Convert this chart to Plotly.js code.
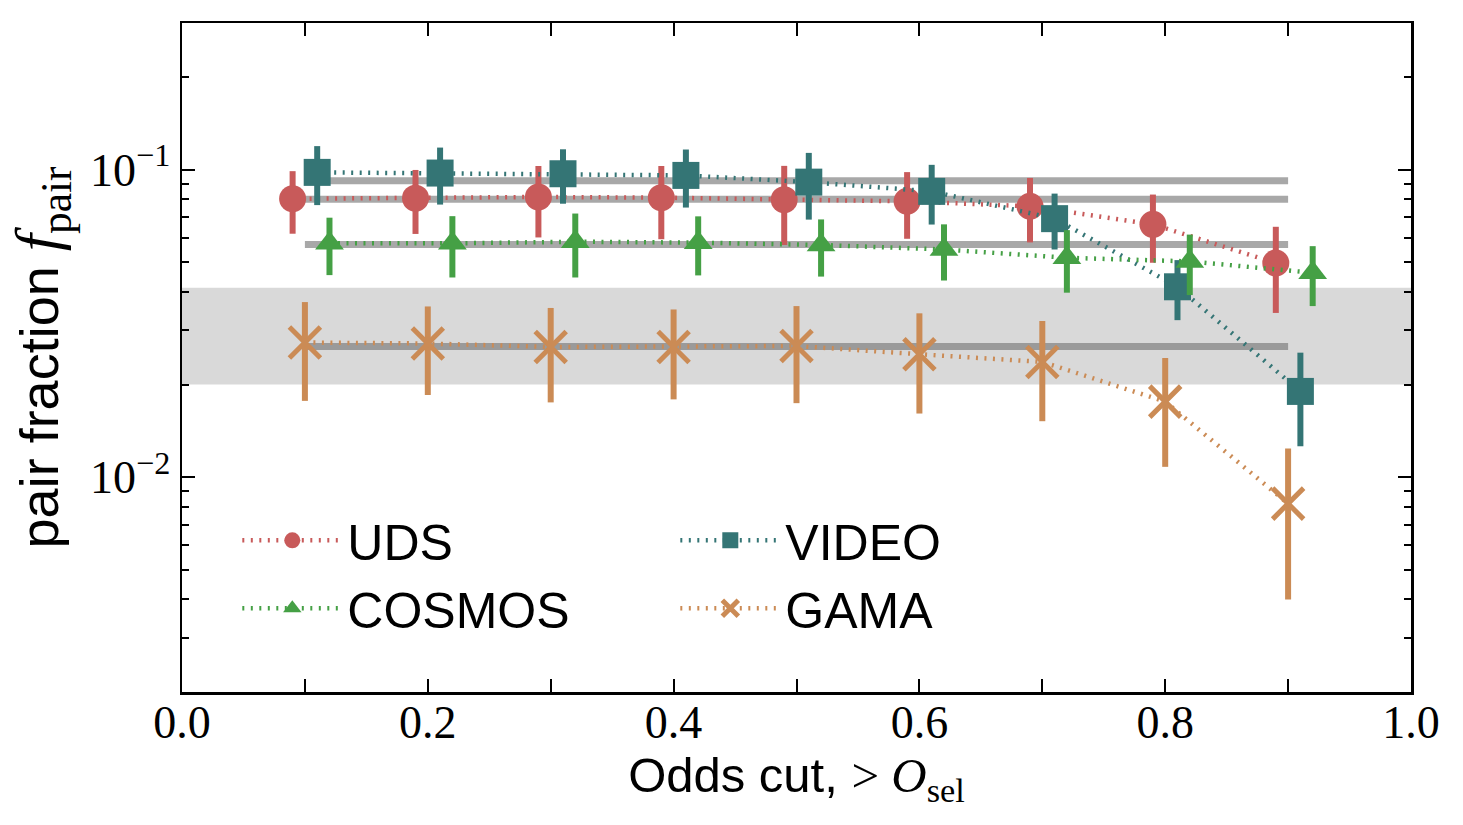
<!DOCTYPE html>
<html>
<head>
<meta charset="utf-8">
<script src="https://cdn.plot.ly/plotly-3.0.1.min.js"></script>
<style>html,body{margin:0;padding:0;background:#fff;}#chart{width:1463px;height:825px;}</style>
</head>
<body>
<div id="chart"></div>
<script>
// ---- data ----
const x_uds = [0.09, 0.19, 0.29, 0.39, 0.49, 0.59, 0.69, 0.79, 0.89];
const f_uds = [0.0804, 0.0808, 0.0815, 0.0811, 0.0799, 0.0789, 0.0760, 0.0664, 0.0497];
const e_uds = [0.0185, 0.0190, 0.0213, 0.0217, 0.0230, 0.0193, 0.0180, 0.0166, 0.0155];

const x_video = [0.11, 0.21, 0.31, 0.41, 0.51, 0.61, 0.71, 0.81, 0.91];
const f_video = [0.0980, 0.0975, 0.0970, 0.0958, 0.0911, 0.0850, 0.0693, 0.0416, 0.0190];
const e_video = [0.0213, 0.0205, 0.0195, 0.0205, 0.0223, 0.0187, 0.0143, 0.0092, 0.0064];

const x_cosmos = [0.12, 0.22, 0.32, 0.42, 0.52, 0.62, 0.72, 0.82, 0.92];
const f_cosmos = [0.0576, 0.0576, 0.0583, 0.0579, 0.0569, 0.0550, 0.0517, 0.0503, 0.0462];
const e_cosmos = [0.0122, 0.0130, 0.0137, 0.0126, 0.0120, 0.0114, 0.0119, 0.0112, 0.0102];

const x_gama = [0.10, 0.20, 0.30, 0.40, 0.50, 0.60, 0.70, 0.80, 0.90];
const f_gama = [0.0274, 0.0272, 0.0265, 0.0265, 0.0267, 0.0251, 0.0237, 0.0176, 0.0082];
const e_gama = [0.0097, 0.0087, 0.0090, 0.0086, 0.0093, 0.0090, 0.0085, 0.0068, 0.0042];

// reference (mean) levels drawn as grey lines, spanning these x limits
const mean_x = [0.1, 0.9];
const mean_levels = [0.0920, 0.0802, 0.0571, 0.0266];

// shaded band
const band_x = [0, 1, 1, 0];
const band_lo = 0.020;
const band_hi = 0.0413;

const x_tickvals = [0.0, 0.2, 0.4, 0.6, 0.8, 1.0];
const x_ticktext = ['0.0', '0.2', '0.4', '0.6', '0.8', '1.0'];
const x_minor = [0.1, 0.3, 0.5, 0.7, 0.9];
const y_tickvals = [0.01, 0.1];
const y_ticktext = ['10<sup>\u22122</sup>', '10<sup>\u22121</sup>'];
const y_minor = [0.002,0.003,0.004,0.005,0.006,0.007,0.008,0.009,
                 0.02,0.03,0.04,0.05,0.06,0.07,0.08,0.09,0.2,0.3];

// ---- styling ----
const C_UDS = '#c85a5a', C_VIDEO = '#347575', C_COSMOS = '#45a045', C_GAMA = '#cb8b55';
const SANS = 'Liberation Sans, Arial, sans-serif';
const SERIF = 'Liberation Serif, Times New Roman, serif';
const dotted = {width: 4.5, dash: '2px,6.5px'};

const traces = [];

traces.push({
  x: band_x, y: [band_lo, band_lo, band_hi, band_hi],
  type: 'scatter', mode: 'lines', fill: 'toself',
  fillcolor: '#d9d9d9', line: {width: 0, color: '#d9d9d9'},
  showlegend: false, hoverinfo: 'skip'
});

mean_levels.forEach(v => {
  traces.push({
    x: mean_x, y: [v, v], type: 'scatter', mode: 'lines',
    line: {color: 'rgba(117,117,117,0.63)', width: 7},
    showlegend: false, hoverinfo: 'skip'
  });
});

function series(name, x, y, e, color, marker) {
  return {
    name: name, x: x, y: y, type: 'scatter', mode: 'lines+markers',
    line: Object.assign({color: color}, dotted),
    marker: Object.assign({color: color}, marker),
    error_y: {type: 'data', array: e, visible: true, color: color, thickness: 6, width: 0},
    hoverinfo: 'skip'
  };
}

traces.push(series('UDS', x_uds, f_uds, e_uds, C_UDS, {symbol: 'circle', size: 27}));
traces.push(series('VIDEO', x_video, f_video, e_video, C_VIDEO, {symbol: 'square', size: 27}));
traces.push(series('COSMOS', x_cosmos, f_cosmos, e_cosmos, C_COSMOS, {symbol: 'triangle-up', size: 25}));
traces.push(series('GAMA', x_gama, f_gama, e_gama, C_GAMA,
  {symbol: 'x-thin-open', size: 31, line: {color: C_GAMA, width: 5}}));

const tickCommon = {
  showgrid: false, zeroline: false,
  showline: true, linecolor: '#000', linewidth: 2.5, mirror: 'ticks',
  ticks: 'inside', ticklen: 13, tickwidth: 2, tickcolor: '#000',
  tickfont: {family: SERIF, size: 46, color: '#000'}
};

const layout = {
  width: 1463, height: 825,
  margin: {l: 182, r: 52, t: 23, b: 133, pad: 0},
  paper_bgcolor: '#fff', plot_bgcolor: '#fff',
  showlegend: true,
  hovermode: false,
  xaxis: Object.assign({}, tickCommon, {
    range: [0, 1],
    tickmode: 'array', tickvals: x_tickvals, ticktext: x_ticktext,
    ticklabelstandoff: -12,
    minor: {ticks: 'inside', ticklen: 13, tickwidth: 2, tickcolor: '#000',
            tickmode: 'array', tickvals: x_minor, showgrid: false},
    title: {text: 'Odds cut, <span style="font-family:Liberation Serif">&gt; <i>O</i><sub>sel</sub></span>',
            font: {family: SANS, size: 49, color: '#000'}, standoff: 0}
  }),
  yaxis: Object.assign({}, tickCommon, {
    type: 'log', range: [Math.log10(0.002), Math.log10(0.3)],
    tickmode: 'array', tickvals: y_tickvals, ticktext: y_ticktext,
    minor: {ticks: 'inside', ticklen: 7, tickwidth: 2, tickcolor: '#000',
            tickmode: 'array', tickvals: y_minor, showgrid: false},
    title: {text: 'pair fraction <span style="font-family:Liberation Serif;font-size:62px"><i>f</i><sub>pair</sub></span>',
            font: {family: SANS, size: 54, color: '#000'}, standoff: 14}
  }),
  legend: {
    orientation: 'h', x: 0.045, y: 0.285, xanchor: 'left', yanchor: 'top',
    bgcolor: 'rgba(0,0,0,0)', borderwidth: 0,
    font: {family: SANS, size: 50, color: '#000'},
    entrywidth: 323, entrywidthmode: 'pixels',
    itemwidth: 100, traceorder: 'normal'
  }
};

Plotly.newPlot('chart', traces, layout, {displayModeBar: false, staticPlot: true});
</script>
</body>
</html>
